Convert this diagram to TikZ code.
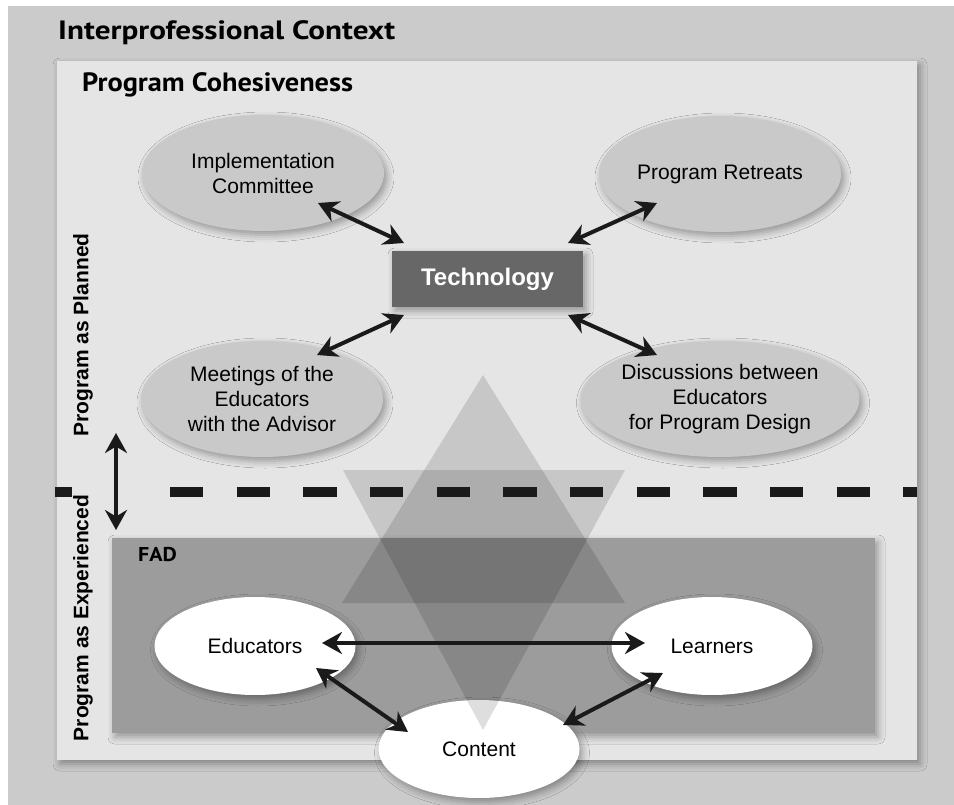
\documentclass[tikz,border=0pt]{standalone}
\usepackage{fontspec}
\setmainfont{Liberation Sans}
\newfontfamily\ptsans{PT Sans}
\usetikzlibrary{arrows.meta,shapes.geometric,shadows.blur,calc}
\definecolor{outerbg}{HTML}{CBCBCB}
\definecolor{panelbg}{HTML}{E5E5E5}
\definecolor{topell}{HTML}{C9C9C9}
\definecolor{techbg}{HTML}{676767}
\definecolor{fadbg}{HTML}{9C9C9C}
\definecolor{arrcol}{HTML}{1A1A1A}
\begin{document}
\begin{tikzpicture}[x=1pt,y=-1pt,
  softshadow/.style={blur shadow={shadow xshift=3pt,shadow yshift=-4pt,shadow blur radius=7pt,shadow opacity=35}},
  titletext/.style={font=\ptsans\bfseries\fontsize{26.5}{30}\selectfont, inner sep=0pt},
  panelbox/.style={rectangle, fill=panelbg, inner sep=0pt, softshadow},
  fadbox/.style={rectangle, fill=fadbg, inner sep=0pt, softshadow},
  topellipse/.style={ellipse, fill=topell, inner sep=0pt, align=center,
     minimum width=242pt, minimum height=116pt, softshadow,
     font=\fontsize{21}{25}\selectfont},
  whiteellipse/.style={ellipse, fill=white, inner sep=0pt, align=center,
     minimum width=201pt, minimum height=98pt, softshadow,
     font=\fontsize{21}{25}\selectfont},
  techbox/.style={rectangle, fill=techbg, inner sep=0pt, minimum width=191pt, minimum height=56pt,
     text=white, font=\bfseries\fontsize{24}{28}\selectfont, softshadow},
  sidelabel/.style={rotate=90, inner sep=0pt, font=\bfseries\fontsize{21}{25}\selectfont},
  arr/.style={draw=arrcol, line width=4pt, {Stealth[length=20pt,width=22pt]}-{Stealth[length=20pt,width=22pt]}},
  dashline/.style={draw=arrcol, line width=10pt},
  tri/.style={fill=black, fill opacity=0.13}
]
\useasboundingbox (0,0) rectangle (954,805);
\fill[white] (0,0) rectangle (954,805);
\fill[outerbg] (8,6) rectangle (954,805);

\node[titletext, anchor=base west] (ictx) at (58,40) {\scalebox{1.175}[1]{Interprofessional Context}};

\node[panelbox, minimum width=860pt, minimum height=699pt] (panel) at (487,410.5) {};
\node[titletext, anchor=base west] (pcoh) at (82,92) {\scalebox{1.07}[1]{Program Cohesiveness}};

% top ellipses and technology
\node[topellipse] (impl) at (263,173) {Implementation\\Committee};
\node[topellipse] (retr) at (720,174) {Program Retreats};
\node[topellipse] (meet) at (262,399) {Meetings of the\\Educators\\with the Advisor};
\node[topellipse] (disc) at (720,399) {Discussions between\\Educators\\for Program Design};
\node[techbox] (tech) at (487.5,279) {Technology};

% FAD
\node[fadbox, minimum width=763pt, minimum height=195pt] (fad) at (493.5,635.5) {};
\node[anchor=base west, inner sep=0pt, font=\ptsans\bfseries\fontsize{20}{24}\selectfont] (fadlbl) at (138,561) {\scalebox{1.1}[1]{FAD}};

% bottom ellipses
\node[whiteellipse] (edu) at (255,646) {Educators};
\node[whiteellipse] (lrn) at (712,646) {Learners};
\node[whiteellipse] (cnt) at (479,749) {Content};

% triangles
\fill[tri] (483,375) -- (342,603) -- (625,603) -- cycle;
\fill[tri] (343,470) -- (625,470) -- (483,730) -- cycle;

% dashed boundary
\draw[dashline] (55,492) -- (72,492);
\draw[dashline, dash pattern=on 33.33pt off 33.33pt] (170,492) -- (917,492);

% side labels
\node[sidelabel] (planned) at (83,335) {Program as Planned};
\node[sidelabel] (experienced) at (83,618) {Program as Experienced};

% arrow end coordinates
\coordinate (a1s) at (318,203); \coordinate (a1e) at (404,243);
\coordinate (a2s) at (568,243); \coordinate (a2e) at (657,203);
\coordinate (a3s) at (404,315); \coordinate (a3e) at (317,355);
\coordinate (a4s) at (568,315); \coordinate (a4e) at (657,355);
\coordinate (b1s) at (322,643); \coordinate (b1e) at (645,643);
\coordinate (b2s) at (316,668); \coordinate (b2e) at (408,732);
\coordinate (b3s) at (663,673); \coordinate (b3e) at (563,725);
\coordinate (v1) at (116,433); \coordinate (v2) at (116,530);

\draw[arr] (a1s) -- (a1e);
\draw[arr] (a2s) -- (a2e);
\draw[arr] (a3s) -- (a3e);
\draw[arr] (a4s) -- (a4e);
\draw[arr] (b1s) -- (b1e);
\draw[arr] (b2s) -- (b2e);
\draw[arr] (b3s) -- (b3e);
\draw[arr] (v1) -- (v2);
\end{tikzpicture}
\end{document}
